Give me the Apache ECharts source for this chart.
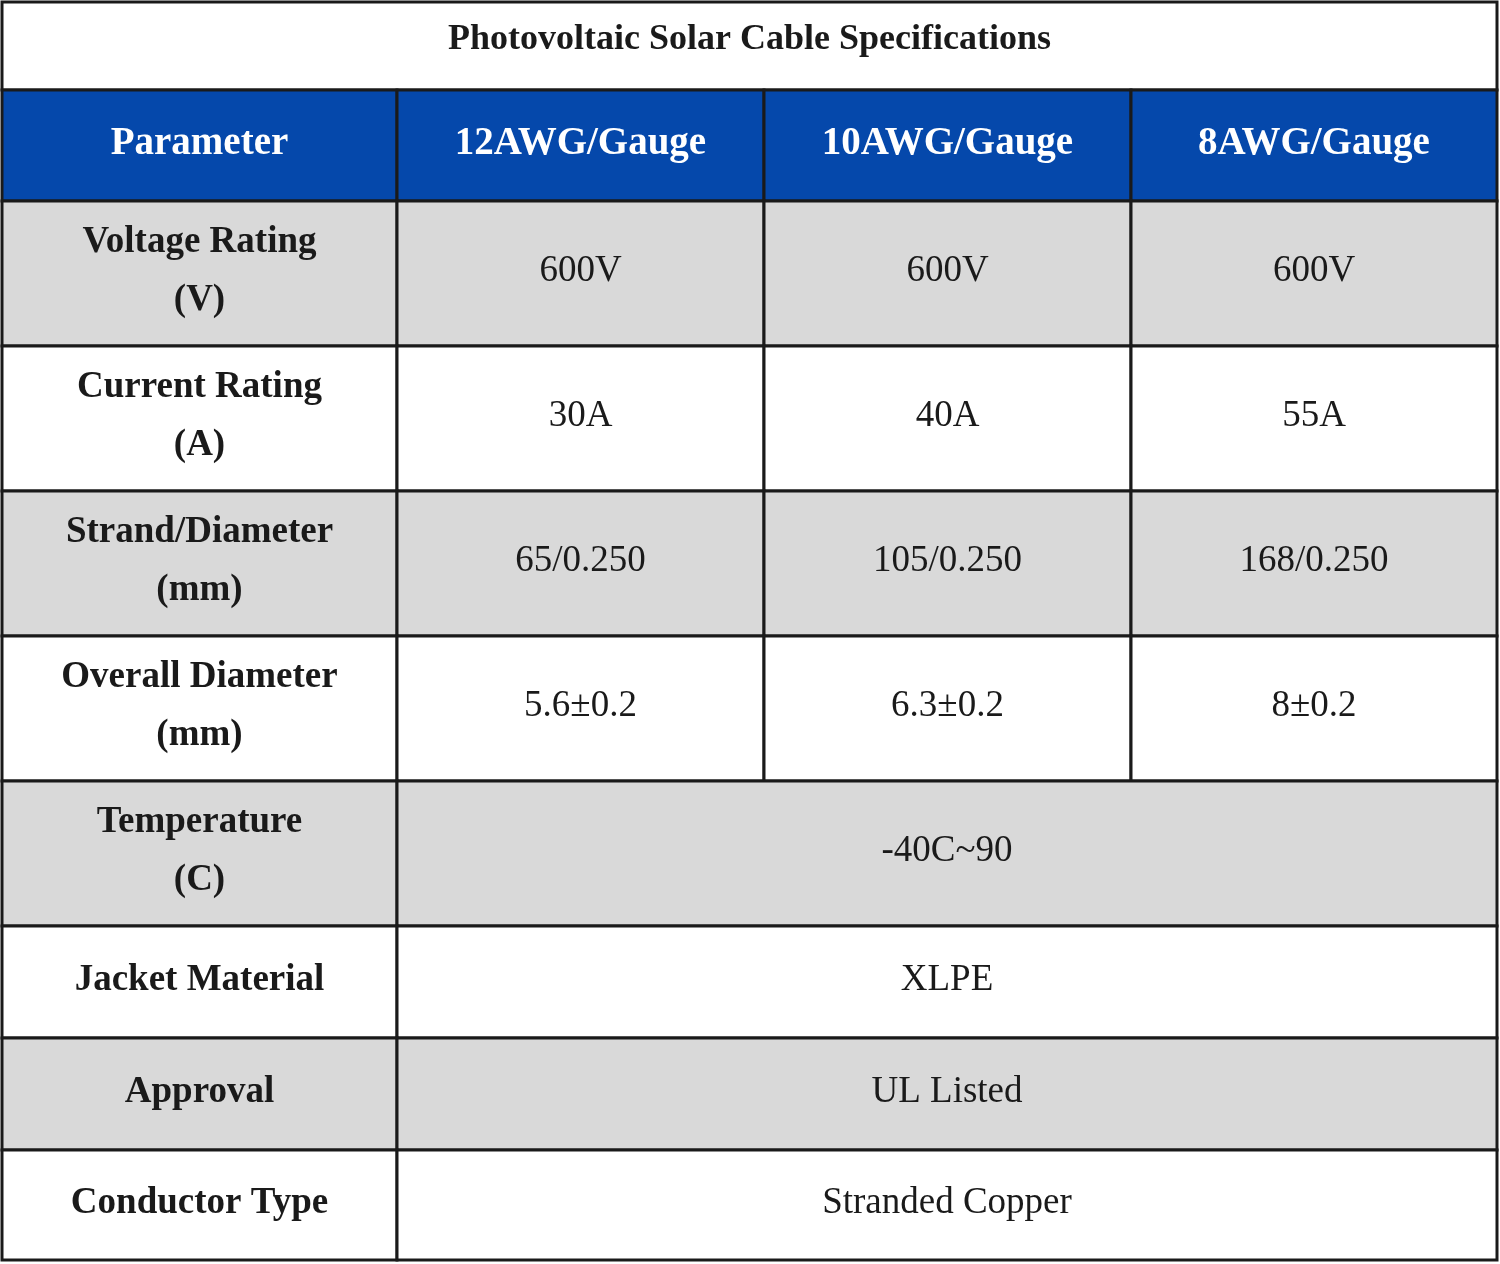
<!DOCTYPE html>
<html><head><meta charset="utf-8">
<script src="https://cdn.jsdelivr.net/npm/echarts@6/dist/echarts.min.js"></script>
<style>html,body{margin:0;padding:0;background:#fff}#chart{width:1500px;height:1264px}</style>
</head><body><div id="chart"></div>
<script>
var title = 'Photovoltaic Solar Cable Specifications';
var headers = ['Parameter', '12AWG/Gauge', '10AWG/Gauge', '8AWG/Gauge'];
var params = ['Voltage Rating\n(V)', 'Current Rating\n(A)', 'Strand/Diameter\n(mm)', 'Overall Diameter\n(mm)',
	'Temperature\n(C)', 'Jacket Material', 'Approval', 'Conductor Type'];
var gauge12 = ['600V', '30A', '65/0.250', '5.6±0.2'];
var gauge10 = ['600V', '40A', '105/0.250', '6.3±0.2'];
var gauge8 = ['600V', '55A', '168/0.250', '8±0.2'];
var shared = ['-40C~90', 'XLPE', 'UL Listed', 'Stranded Copper'];

// layout (pixel grid)
var colEdges = [2, 397, 764, 1131, 1497];
var rowEdges = [2, 90, 201, 346, 491, 636, 781, 926, 1038, 1150, 1260];

var cells = [];
// [x0, x1, y0, y1, text, kind]
cells.push([colEdges[0], colEdges[4], rowEdges[0], rowEdges[1], title, 'title']);
headers.forEach(function(h, c){
	cells.push([colEdges[c], colEdges[c+1], rowEdges[1], rowEdges[2], h, 'head']);
});
params.forEach(function(p, r){
	var y0 = rowEdges[r+2], y1 = rowEdges[r+3];
	var kind = r % 2 == 0 ? 'gray' : 'white';
	cells.push([colEdges[0], colEdges[1], y0, y1, p, kind + 'B']);
	if(r < gauge12.length){
		cells.push([colEdges[1], colEdges[2], y0, y1, gauge12[r], kind]);
		cells.push([colEdges[2], colEdges[3], y0, y1, gauge10[r], kind]);
		cells.push([colEdges[3], colEdges[4], y0, y1, gauge8[r], kind]);
	}else{
		cells.push([colEdges[1], colEdges[4], y0, y1, shared[r - gauge12.length], kind]);
	}
});

var fills = {title:'#ffffff', head:'#0548ab', gray:'#d9d9d9', white:'#ffffff', grayB:'#d9d9d9', whiteB:'#ffffff'};
var serif = '"Liberation Serif","DejaVu Serif",serif';

var option = {
	animation:false,
	grid:{left:0, right:0, top:0, bottom:0},
	xAxis:{type:'value', min:0, max:1500, show:false},
	yAxis:{type:'value', min:0, max:1264, inverse:true, show:false},
	series:[{
		type:'custom',
		data:cells,
		renderItem:function(p, api){
			var d = cells[p.dataIndex];
			var a = api.coord([d[0], d[2]]), b = api.coord([d[1], d[3]]);
			var kind = d[5];
			var bold = kind == 'title' || kind == 'head' || kind.slice(-1) == 'B';
			var size = kind == 'title' ? 36 : (kind == 'head' ? 39 : 37);
			return {
				type:'group',
				children:[{
					type:'rect',
					shape:{x:a[0], y:a[1], width:b[0]-a[0], height:b[1]-a[1]},
					style:{fill:fills[kind], stroke:'#1a1a1a', lineWidth:3}
				},{
					type:'text',
					x:(a[0]+b[0])/2, y:(a[1]+b[1])/2 + (kind == 'title' ? -6 : -2),
					style:{
						text:d[4], align:'center', verticalAlign:'middle',
						fill: kind == 'head' ? '#ffffff' : '#1a1a1a',
						font:(bold ? 'bold ' : '') + size + 'px ' + serif,
						lineHeight:58
					}
				}]
			};
		}
	}]
};
var myChart = echarts.init(document.getElementById('chart'));
myChart.setOption(option);
</script></body></html>
